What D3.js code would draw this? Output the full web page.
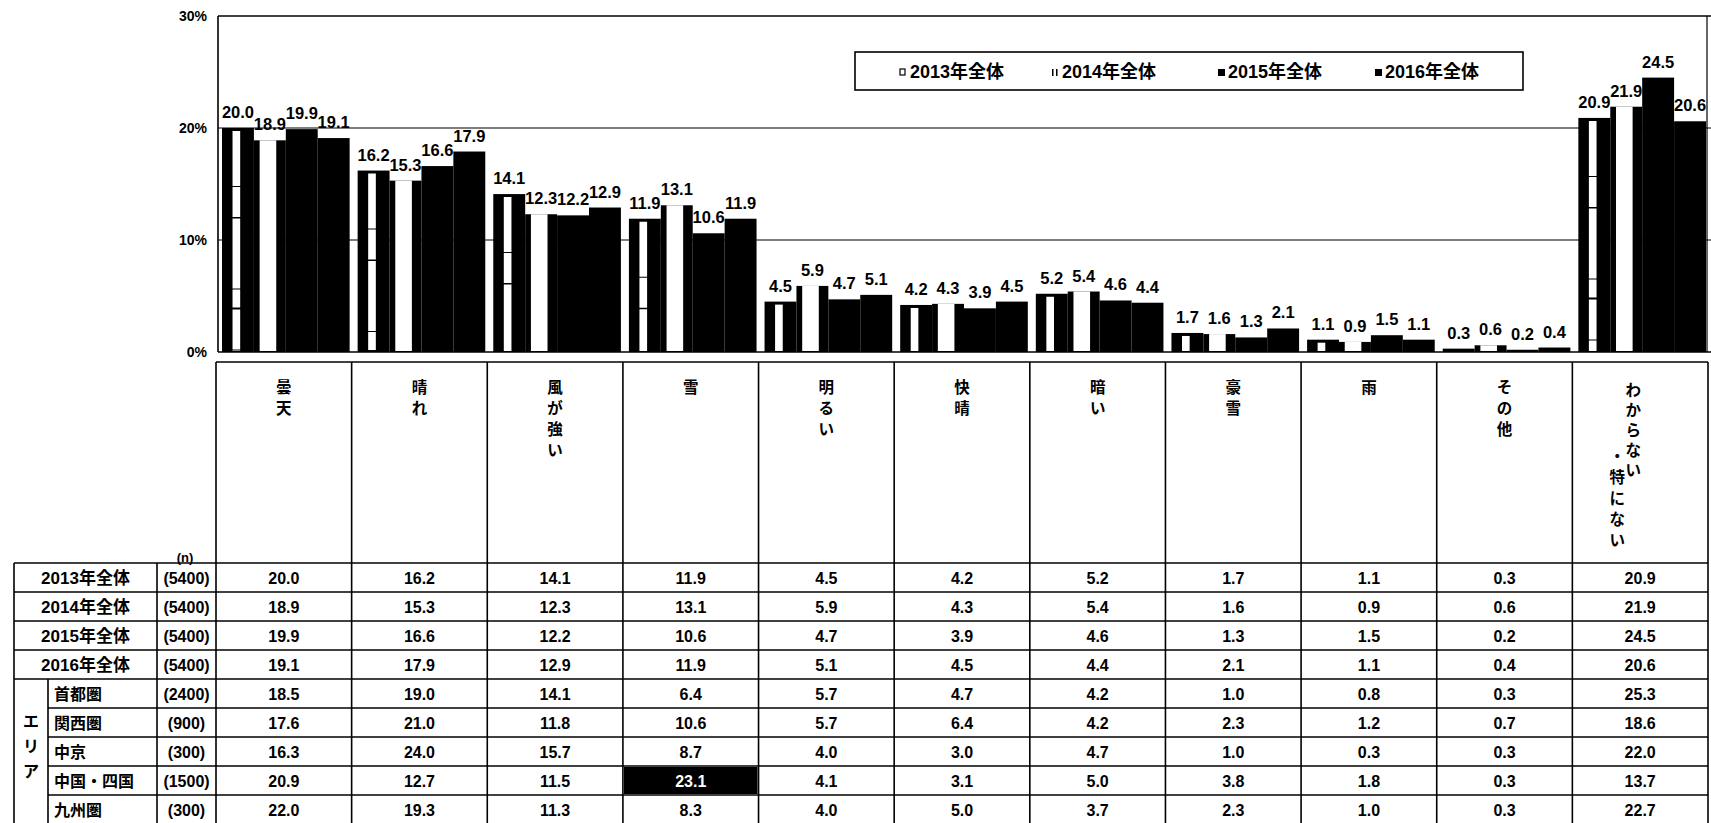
<!DOCTYPE html>
<html>
<head>
<meta charset="utf-8">
<script src="https://cdn.jsdelivr.net/npm/d3@7"></script>
<style>
  html, body { margin: 0; padding: 0; background: #fff; }
  svg { display: block; }
  .num { font-family: "Liberation Sans", Arial, sans-serif; font-weight: bold; }
  .jp { font-family: "Liberation Sans", "Noto Sans CJK JP", sans-serif; font-weight: bold; }
</style>
</head>
<body>
<svg id="chart" width="1711" height="823"></svg>
<script>
// ---------------- data ----------------
const categories = ["曇天", "晴れ", "風が強い", "雪", "明るい", "快晴", "暗い", "豪雪", "雨", "その他", "わからない・特にない"];
const seriesNames = ["2013年全体", "2014年全体", "2015年全体", "2016年全体"];
const v2013 = [20.0, 16.2, 14.1, 11.9, 4.5, 4.2, 5.2, 1.7, 1.1, 0.3, 20.9];
const v2014 = [18.9, 15.3, 12.3, 13.1, 5.9, 4.3, 5.4, 1.6, 0.9, 0.6, 21.9];
const v2015 = [19.9, 16.6, 12.2, 10.6, 4.7, 3.9, 4.6, 1.3, 1.5, 0.2, 24.5];
const v2016 = [19.1, 17.9, 12.9, 11.9, 5.1, 4.5, 4.4, 2.1, 1.1, 0.4, 20.6];
const totalN = [5400, 5400, 5400, 5400];
const areaNames = ["首都圏", "関西圏", "中京", "中国・四国", "九州圏"];
const areaN = [2400, 900, 300, 1500, 300];
const vShuto   = [18.5, 19.0, 14.1, 6.4, 5.7, 4.7, 4.2, 1.0, 0.8, 0.3, 25.3];
const vKansai  = [17.6, 21.0, 11.8, 10.6, 5.7, 6.4, 4.2, 2.3, 1.2, 0.7, 18.6];
const vChukyo  = [16.3, 24.0, 15.7, 8.7, 4.0, 3.0, 4.7, 1.0, 0.3, 0.3, 22.0];
const vChugoku = [20.9, 12.7, 11.5, 23.1, 4.1, 3.1, 5.0, 3.8, 1.8, 0.3, 13.7];
const vKyushu  = [22.0, 19.3, 11.3, 8.3, 4.0, 5.0, 3.7, 2.3, 1.0, 0.3, 22.7];
const yTicks = [0, 10, 20, 30];
const areaGroupLabel = "エリア";
const nLabel = "(n)";
const highlightCell = { row: "中国・四国", col: "雪" };

// ---------------- layout ----------------
const svg = d3.select("#chart");
const W = 1711, H = 823;
const plotLeft = 218, plotRight = 1707, plotTop = 16, plotBottom = 352;
const colStart = 216, colEnd = 1708;

const x = d3.scaleBand().domain(categories).range([colStart, colEnd]).padding(0);
const bw = x.bandwidth();
const xs = d3.scaleBand().domain(seriesNames).range([6, bw - 2]).padding(0);
const y = d3.scaleLinear().domain([0, 30]).range([plotBottom, plotTop]);

const seriesVals = [v2013, v2014, v2015, v2016];

// gridlines
const grid = svg.append("g");
grid.selectAll("line").data(yTicks.filter(t => t > 0)).join("line")
  .attr("x1", plotLeft).attr("x2", W)
  .attr("y1", d => y(d)).attr("y2", d => y(d))
  .attr("stroke", "#000").attr("stroke-width", d => d === 30 ? 1.6 : 1.2);

// y axis labels
const yAxis = d3.axisLeft(y).tickValues(yTicks).tickSize(0).tickPadding(0).tickFormat(d => d + "%");
const ya = svg.append("g").attr("transform", `translate(${plotLeft - 11},0)`).call(yAxis);
ya.select(".domain").remove();
ya.selectAll("text").attr("class", "num").attr("font-size", 14).attr("fill", "#000")
  .attr("dy", "0.35em");

// bars, series by series
seriesNames.forEach((s, si) => {
  const g = svg.append("g");
  const vals = seriesVals[si];
  const data = categories.map((c, i) => ({ c, v: vals[i] }));
  g.selectAll("rect.bar").data(data).join("rect").attr("class", "bar")
    .attr("x", d => x(d.c) + xs(s)).attr("width", xs.bandwidth())
    .attr("y", d => y(d.v)).attr("height", d => plotBottom - y(d.v))
    .attr("fill", "#000");
  const w = xs.bandwidth();
  if (si === 0) {
    g.selectAll("line.stripe").data(data.filter(d => plotBottom - y(d.v) > 6)).join("line").attr("class", "stripe")
      .attr("x1", d => x(d.c) + xs(s) + w * 0.45).attr("x2", d => x(d.c) + xs(s) + w * 0.45)
      .attr("y1", d => y(d.v) + 3).attr("y2", plotBottom - 1)
      .attr("stroke", "#fff").attr("stroke-width", w * 0.24)
      .attr("stroke-dasharray", "55 1 30 1.5 70 1 18 2 40 1");
  }
  if (si === 1) {
    g.selectAll("rect.stripe").data(data.filter(d => plotBottom - y(d.v) > 3)).join("rect").attr("class", "stripe")
      .attr("x", d => x(d.c) + xs(s) + w * 0.18).attr("width", w * 0.52)
      .attr("y", d => y(d.v)).attr("height", d => plotBottom - y(d.v) - 1)
      .attr("fill", "#fff");
  }
  g.selectAll("text").data(data).join("text").attr("class", "num")
    .attr("x", d => x(d.c) + xs(s) + w / 2).attr("y", d => y(d.v) - 10)
    .attr("text-anchor", "middle").attr("font-size", 16.5).attr("fill", "#000")
    .text(d => d.v.toFixed(1));
});

// plot frame (left axis, bottom, right)
svg.append("line").attr("x1", plotLeft).attr("x2", plotLeft).attr("y1", plotTop).attr("y2", plotBottom)
  .attr("stroke", "#000").attr("stroke-width", 1.6);
svg.append("line").attr("x1", plotLeft).attr("x2", W).attr("y1", plotBottom).attr("y2", plotBottom)
  .attr("stroke", "#000").attr("stroke-width", 1.6);
svg.append("line").attr("x1", plotRight).attr("x2", plotRight).attr("y1", plotTop).attr("y2", plotBottom)
  .attr("stroke", "#000").attr("stroke-width", 1.2);

// legend
const lg = svg.append("g");
lg.append("rect").attr("x", 855).attr("y", 52).attr("width", 668).attr("height", 38)
  .attr("fill", "#fff").attr("stroke", "#000").attr("stroke-width", 1.6);
const legX = [900, 1052, 1218, 1375];
seriesNames.forEach((s, i) => {
  const mx = legX[i];
  if (i === 0) {
    lg.append("rect").attr("x", mx).attr("y", 69).attr("width", 5).attr("height", 6)
      .attr("fill", "none").attr("stroke", "#000").attr("stroke-width", 1.2);
  } else if (i === 1) {
    lg.append("rect").attr("x", mx).attr("y", 69).attr("width", 1.5).attr("height", 7).attr("fill", "#000");
    lg.append("rect").attr("x", mx + 4).attr("y", 69).attr("width", 1.5).attr("height", 7).attr("fill", "#000");
  } else {
    lg.append("rect").attr("x", mx).attr("y", 69).attr("width", 7).attr("height", 7).attr("fill", "#000");
  }
  lg.append("text").attr("class", "jp").attr("x", mx + 10).attr("y", 78)
    .attr("font-size", 18).attr("fill", "#000").text(s);
});

// ---------------- table ----------------
const headTop = 362, rowTop = 563, rowH = 29;
const tableLeft = 14, areaDiv = 48, nDiv = 157;
const tbl = svg.append("g");
const lineAttr = sel => sel.attr("stroke", "#000").attr("stroke-width", 1.6);

// header verticals & top
const colEdges = categories.map(c => x(c)).concat([colEnd]);
colEdges.forEach(cx => lineAttr(tbl.append("line").attr("x1", cx).attr("x2", cx).attr("y1", headTop).attr("y2", H)));
lineAttr(tbl.append("line").attr("x1", colStart).attr("x2", colEnd).attr("y1", headTop).attr("y2", headTop));

// header vertical text
const pitch = 21;
categories.forEach(c => {
  const cx = x(c) + bw / 2;
  const parts = c.split("・");
  if (parts.length === 1) {
    Array.from(c).forEach((ch, k) => {
      tbl.append("text").attr("class", "jp").attr("x", cx).attr("y", 387 + k * pitch)
        .attr("text-anchor", "middle").attr("dominant-baseline", "central")
        .attr("font-size", 15.5).attr("fill", "#000").text(ch);
    });
  } else {
    Array.from(parts[0]).forEach((ch, k) => {
      tbl.append("text").attr("class", "jp").attr("x", cx - 7).attr("y", 390 + k * 20)
        .attr("text-anchor", "middle").attr("dominant-baseline", "central")
        .attr("font-size", 15.5).attr("fill", "#000").text(ch);
    });
    Array.from("・" + parts[1]).forEach((ch, k) => {
      tbl.append("text").attr("class", "jp").attr("x", cx - 23).attr("y", 456 + k * 21)
        .attr("text-anchor", "middle").attr("dominant-baseline", "central")
        .attr("font-size", 15.5).attr("fill", "#000").text(ch);
    });
  }
});
tbl.append("text").attr("class", "num").attr("x", 185).attr("y", 562)
  .attr("text-anchor", "middle").attr("font-size", 13).attr("fill", "#000").text(nLabel);

// rows
const rows = [];
seriesNames.forEach((s, i) => rows.push({ label: s, n: totalN[i], vals: seriesVals[i], area: false }));
const areaVals = [vShuto, vKansai, vChukyo, vChugoku, vKyushu];
areaNames.forEach((a, i) => rows.push({ label: a, n: areaN[i], vals: areaVals[i], area: true }));

rows.forEach((r, i) => {
  const ty = rowTop + i * rowH;
  const x1 = (r.area && i > 4) ? areaDiv : tableLeft;
  lineAttr(tbl.append("line").attr("x1", x1).attr("x2", colEnd).attr("y1", ty).attr("y2", ty));
  const cy = ty + rowH / 2 + 1;
  if (r.area) {
    tbl.append("text").attr("class", "jp").attr("x", 54).attr("y", cy)
      .attr("dominant-baseline", "central").attr("font-size", 16).attr("fill", "#000").text(r.label);
  } else {
    tbl.append("text").attr("class", "jp").attr("x", (tableLeft + nDiv) / 2).attr("y", cy)
      .attr("text-anchor", "middle").attr("dominant-baseline", "central")
      .attr("font-size", 17).attr("fill", "#000").text(r.label);
  }
  tbl.append("text").attr("class", "num").attr("x", (nDiv + colStart) / 2).attr("y", cy)
    .attr("text-anchor", "middle").attr("dominant-baseline", "central")
    .attr("font-size", 16).attr("fill", "#000").text("(" + r.n + ")");
  r.vals.forEach((v, k) => {
    const c = categories[k];
    const hl = r.label === highlightCell.row && c === highlightCell.col;
    if (hl) {
      tbl.append("rect").attr("x", x(c) + 1).attr("y", ty + 1).attr("width", bw - 2).attr("height", rowH - 2).attr("fill", "#000");
    }
    tbl.append("text").attr("class", "num").attr("x", x(c) + bw / 2).attr("y", cy)
      .attr("text-anchor", "middle").attr("dominant-baseline", "central")
      .attr("font-size", 16).attr("fill", hl ? "#fff" : "#000").text(v.toFixed(1));
  });
});
// left verticals
lineAttr(tbl.append("line").attr("x1", tableLeft).attr("x2", tableLeft).attr("y1", rowTop).attr("y2", H));
lineAttr(tbl.append("line").attr("x1", nDiv).attr("x2", nDiv).attr("y1", rowTop).attr("y2", H));
lineAttr(tbl.append("line").attr("x1", areaDiv).attr("x2", areaDiv).attr("y1", rowTop + 4 * rowH).attr("y2", H));
// エリア vertical label
const areaMid = rowTop + 4 * rowH + (H - (rowTop + 4 * rowH)) / 2 - 5;
Array.from(areaGroupLabel).forEach((ch, k) => {
  tbl.append("text").attr("class", "jp").attr("x", (tableLeft + areaDiv) / 2).attr("y", areaMid + (k - 1) * 25)
    .attr("text-anchor", "middle").attr("dominant-baseline", "central")
    .attr("font-size", 16).attr("fill", "#000").text(ch);
});
</script>
</body>
</html>
